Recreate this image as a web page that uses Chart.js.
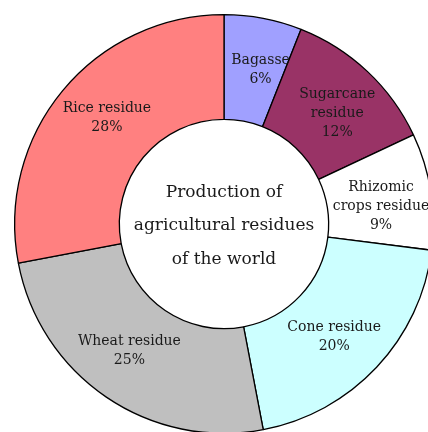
<!DOCTYPE html>
<html>
<head>
<meta charset="utf-8">
<script src="https://cdn.jsdelivr.net/npm/chart.js@4.4.1/dist/chart.umd.min.js"></script>
<style>
    html, body { margin: 0; padding: 0; background: #fff; overflow: hidden; }
    #wrap { width: 448px; height: 448px; }
</style>
</head>
<body>
<div id="wrap"><canvas id="residueChart" width="448" height="448"></canvas></div>
<script>
// Residue shares (%), clockwise from 12 o'clock
const categories = ['Bagasse', 'Sugarcane residue', 'Rhizomic crops residue', 'Cone residue', 'Wheat residue', 'Rice residue'];
const shares = [6, 12, 9, 20, 25, 28];
const sliceLines = [
    ['Bagasse'],
    ['Sugarcane', 'residue'],
    ['Rhizomic', 'crops residue'],
    ['Cone residue'],
    ['Wheat residue'],
    ['Rice residue']
];
const sliceColors = ['#a0a0ff', '#993366', '#ffffff', '#ccffff', '#bfbfbf', '#ff8080'];
const centerTitle = ['Production of', 'agricultural residues', 'of the world'];

const serif = '"DejaVu Serif", "Liberation Serif", serif';

// Draws the name + percentage inside each slice and the title in the hole
const labelPlugin = {
    id: 'sliceLabels',
    afterDatasetsDraw(chart) {
        const ctx = chart.ctx;
        const meta = chart.getDatasetMeta(0);
        ctx.save();
        ctx.fillStyle = '#1a1a1a';
        ctx.textAlign = 'center';
        ctx.textBaseline = 'middle';
        ctx.font = '14px ' + serif;

        meta.data.forEach((arc, i) => {
            const p = arc.getProps(['x', 'y', 'startAngle', 'endAngle', 'innerRadius', 'outerRadius'], true);
            // nudge labels a little clockwise of the slice middle
            const mid = (p.startAngle + p.endAngle) / 2 + 0.045;
            const r = (p.innerRadius + p.outerRadius) / 2 + 1;
            const x = p.x + Math.cos(mid) * r;
            const y = p.y + Math.sin(mid) * r;
            const lines = sliceLines[i].concat([shares[i] + '%']);
            const lh = 19;
            const top = y - (lines.length - 1) * lh / 2;
            lines.forEach((t, k) => ctx.fillText(t, x, top + k * lh));
        });

        const cx = (chart.chartArea.left + chart.chartArea.right) / 2;
        const cy = (chart.chartArea.top + chart.chartArea.bottom) / 2;
        ctx.font = '17px ' + serif;
        centerTitle.forEach((t, k) => ctx.fillText(t, cx, cy + 2 + (k - 1) * 33.5));
        ctx.restore();
    }
};

new Chart(document.getElementById('residueChart'), {
    type: 'doughnut',
    data: {
        labels: categories,
        datasets: [{
            data: shares,
            backgroundColor: sliceColors,
            borderColor: '#000000',
            borderWidth: 1.3
        }]
    },
    options: {
        responsive: false,
        animation: false,
        cutout: '50%',
        layout: { padding: 14 },
        plugins: {
            legend: { display: false },
            tooltip: { enabled: false }
        }
    },
    plugins: [labelPlugin]
});
</script>
</body>
</html>
